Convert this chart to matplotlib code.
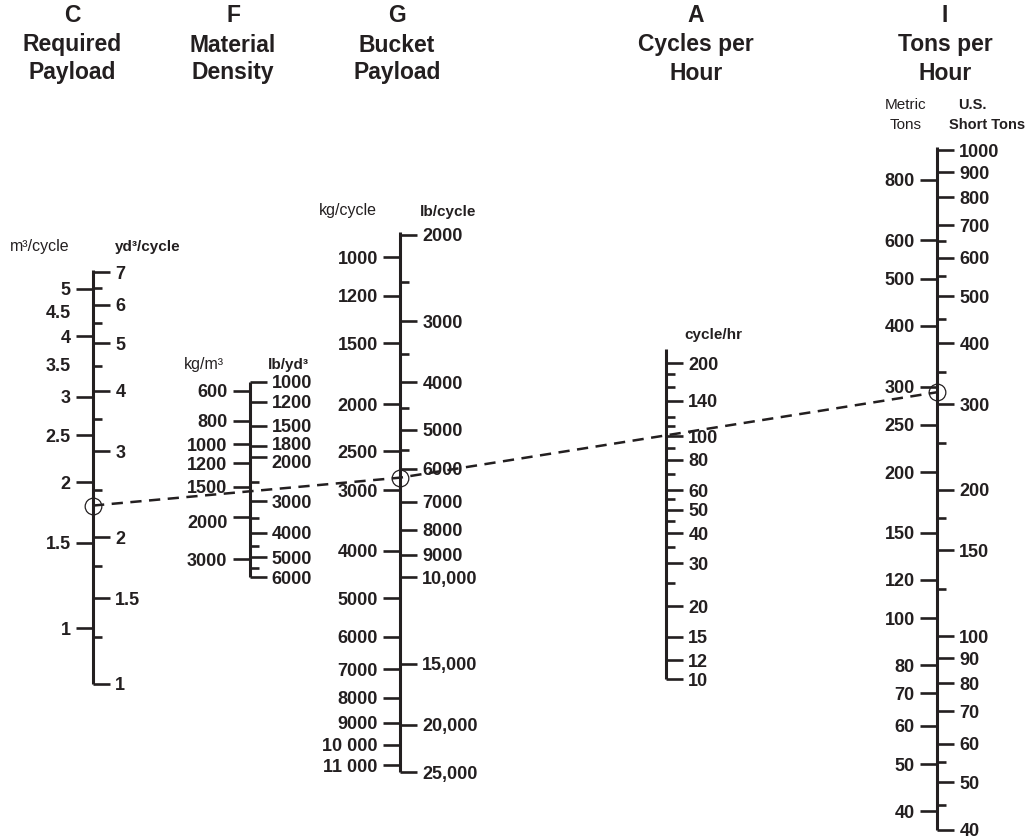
import matplotlib
matplotlib.use("Agg")
import matplotlib.pyplot as plt
from matplotlib.lines import Line2D
from matplotlib.ticker import NullFormatter, NullLocator
from matplotlib.transforms import ScaledTranslation

# ========================= CONFIG =========================
W, H = 1030, 839
INK = "#231f20"

plt.rcParams["font.family"] = ["Liberation Sans", "DejaVu Sans"]
plt.rcParams["font.weight"] = "bold"

LONG_TICK = 12.5
SHORT_TICK = 6.5
TICK_W = 1.9
AXIS_W = 2.2
LABEL_PAD = 3.5
LABEL_SIZE = 13

# ========================= DATA =========================
# C - Required Payload
C_M3_TICKS = [1, 1.5, 2, 2.5, 3, 4, 5]
C_M3_LABEL_ONLY = [3.5, 4.5]
C_M3_RANGE = (0.768, 5.47)
C_YD3_TICKS = [1, 1.5, 2, 3, 4, 5, 6, 7]
C_YD3_MINOR = [1.25, 1.75, 2.5, 3.5, 4.5, 5.5, 6.5]
C_YD3_RANGE = (1, 7.07)

# F - Material Density (increases downward)
F_KG_TICKS = [600, 800, 1000, 1200, 1500, 2000, 3000]
F_KG_RANGE = (3552, 551)
F_LB_TICKS = [1000, 1200, 1500, 1800, 2000, 3000, 4000, 5000, 6000]
F_LB_MINOR = [2500, 3500, 4500, 5500]
F_LB_RANGE = (6000, 1000)

# G - Bucket Payload (increases downward)
G_KG_TICKS = [1000, 1200, 1500, 2000, 2500, 3000, 4000, 5000, 6000, 7000, 8000, 9000, 10000, 11000]
G_KG_LABELS = ["1000", "1200", "1500", "2000", "2500", "3000", "4000", "5000", "6000", "7000",
               "8000", "9000", "10 000", "11 000"]
G_KG_RANGE = (11380, 887)
G_LB_TICKS = [2000, 3000, 4000, 5000, 6000, 7000, 8000, 9000, 10000, 15000, 20000, 25000]
G_LB_LABELS = ["2000", "3000", "4000", "5000", "6000", "7000", "8000", "9000",
               "10,000", "15,000", "20,000", "25,000"]
G_LB_MINOR = [2500, 3500, 4500, 5500]
G_LB_RANGE = (25000, 1972)

# A - Cycles per Hour
A_TICKS = [10, 12, 15, 20, 30, 40, 50, 60, 80, 100, 140, 200]
A_MINOR = [25, 35, 45, 55, 70, 90, 110, 120, 160, 180]
A_RANGE = (10, 228.4)

# I - Tons per Hour
I_T_TICKS = [40, 50, 60, 70, 80, 100, 120, 150, 200, 250, 300, 400, 500, 600, 800]
I_T_RANGE = (36.67, 933.7)
I_ST_TICKS = [40, 50, 60, 70, 80, 90, 100, 150, 200, 300, 400, 500, 600, 700, 800, 900, 1000]
I_ST_MINOR = [45, 55, 125, 175, 250, 350, 450, 550, 650]
I_ST_RANGE = (40, 1013)

# worked example drawn across the chart
EX_REQUIRED_M3 = 1.79
EX_BUCKET_KG = 2830
EX_TONS_METRIC = 292


def fmt(v):
    return f"{v:g}"


# ========================= HELPERS =========================
def add_scale(fig, x_px, top_px, bottom_px):
    ax = fig.add_axes([x_px / W, 1 - bottom_px / H, 1e-4, (bottom_px - top_px) / H])
    ax.patch.set_visible(False)
    ax.set_xticks([])
    for s in ("top", "bottom", "right"):
        ax.spines[s].set_visible(False)
    ax.spines["left"].set_linewidth(AXIS_W)
    ax.spines["left"].set_color(INK)
    ax.spines["left"].set_capstyle("butt")
    return ax


def style_side(ax, side, ticks, lim, labels=None, minor=None):
    ax.set_yscale("log")
    ax.set_ylim(*lim)
    ax.set_yticks(ticks, labels=labels if labels else [fmt(t) for t in ticks])
    if minor:
        ax.set_yticks(minor, minor=True)
    else:
        ax.yaxis.set_minor_locator(NullLocator())
    ax.yaxis.set_minor_formatter(NullFormatter())
    if side == "left":
        ax.yaxis.tick_left()
    else:
        ax.yaxis.tick_right()
    ax.tick_params(axis="y", which="major", direction="out", length=LONG_TICK, width=TICK_W,
                   color=INK, pad=LABEL_PAD, labelsize=LABEL_SIZE, labelcolor=INK)
    ax.tick_params(axis="y", which="minor", direction="out", length=SHORT_TICK, width=TICK_W, color=INK)


def twin_side(ax):
    ax2 = ax.twinx()
    ax2.patch.set_visible(False)
    for s in ax2.spines.values():
        s.set_visible(False)
    return ax2


def nudge_label(fig, ax, value, dy_px):
    # crowded labels on the density scale: shift the text only, tick stays put
    for tick, loc in zip(ax.yaxis.get_major_ticks(), ax.yaxis.get_majorticklocs()):
        if loc == value:
            lab = tick.label2 if tick.label2.get_visible() else tick.label1
            lab.set_transform(lab.get_transform() + ScaledTranslation(0, -dy_px / 100, fig.dpi_scale_trans))


def txt(fig, x, y, s, size=11, weight="bold", **kw):
    fig.text(x / W, 1 - y / H, s, ha="center", va="center", fontsize=size,
             fontweight=weight, color=INK, **kw)


# ========================= PLOT =========================
def plot_nomograph():
    fig = plt.figure(figsize=(W / 100, H / 100), dpi=100)
    fig.patch.set_facecolor("white")

    # C
    axC = add_scale(fig, 93, 270, 684)
    style_side(axC, "left", C_M3_TICKS, C_M3_RANGE)
    trans, va, ha = axC.get_yaxis_text1_transform(LONG_TICK + LABEL_PAD)
    for v in C_M3_LABEL_ONLY:
        axC.text(0, v, fmt(v), transform=trans, va=va, ha=ha, fontsize=LABEL_SIZE, color=INK)
    axC2 = twin_side(axC)
    style_side(axC2, "right", C_YD3_TICKS, C_YD3_RANGE, minor=C_YD3_MINOR)

    # F
    axF = add_scale(fig, 249.5, 381.7, 577)
    style_side(axF, "left", F_KG_TICKS, F_KG_RANGE)
    axF2 = twin_side(axF)
    style_side(axF2, "right", F_LB_TICKS, F_LB_RANGE, minor=F_LB_MINOR)
    nudge_label(fig, axF2, 1800, -2)
    nudge_label(fig, axF2, 2000, 4)
    nudge_label(fig, axF, 2000, 5)

    # G
    axG = add_scale(fig, 400, 232, 772.3)
    style_side(axG, "left", G_KG_TICKS, G_KG_RANGE, labels=G_KG_LABELS)
    axG2 = twin_side(axG)
    style_side(axG2, "right", G_LB_TICKS, G_LB_RANGE, labels=G_LB_LABELS, minor=G_LB_MINOR)

    # A
    axA = add_scale(fig, 666, 349.3, 679.3)
    style_side(axA, "right", A_TICKS, A_RANGE, minor=A_MINOR)

    # I
    axI = add_scale(fig, 937, 147.3, 829.5)
    style_side(axI, "left", I_T_TICKS, I_T_RANGE)
    axI2 = twin_side(axI)
    style_side(axI2, "right", I_ST_TICKS, I_ST_RANGE, minor=I_ST_MINOR)

    # titles
    titles = [(72, ["C", "Required", "Payload"]),
              (233, ["F", "Material", "Density"]),
              (397, ["G", "Bucket", "Payload"]),
              (696, ["A", "Cycles per", "Hour"]),
              (945, ["I", "Tons per", "Hour"])]
    for x, lines in titles:
        for y, s in zip((16, 45, 73), lines):
            txt(fig, x, y, s, size=16.5)

    # unit labels
    txt(fig, 40, 247, "m³/cycle", size=11.5, weight="normal")
    txt(fig, 148, 247, "yd³/cycle", size=11)
    txt(fig, 204, 365, "kg/m³", size=11.5, weight="normal")
    txt(fig, 288, 365, "lb/yd³", size=11)
    txt(fig, 348, 211, "kg/cycle", size=11.5, weight="normal")
    txt(fig, 448, 212, "lb/cycle", size=11)
    txt(fig, 713, 335, "cycle/hr", size=11)
    txt(fig, 906, 105, "Metric", size=11, weight="normal")
    txt(fig, 906, 125, "Tons", size=11, weight="normal")
    txt(fig, 972, 105, "U.S.", size=10.5)
    txt(fig, 987, 125, "Short Tons", size=10.5)

    # worked example: C -> (F) -> G -> (A) -> I
    pts = [axC.transData.transform((0, EX_REQUIRED_M3)),
           axG.transData.transform((0, EX_BUCKET_KG)),
           axI.transData.transform((0, EX_TONS_METRIC))]
    pts = fig.transFigure.inverted().transform(pts)
    xs, ys = pts[:, 0], pts[:, 1]
    fig.add_artist(Line2D(xs, ys, transform=fig.transFigure, color=INK, lw=1.8,
                          ls=(0, (4.5, 3)), zorder=5))
    fig.add_artist(Line2D(xs, ys, transform=fig.transFigure, ls="none", marker="o", ms=12,
                          mfc="none", mec=INK, mew=0.9, zorder=6))

    fig.savefig("out.png", dpi=100, facecolor="white")
    plt.close(fig)


if __name__ == "__main__":
    plot_nomograph()
